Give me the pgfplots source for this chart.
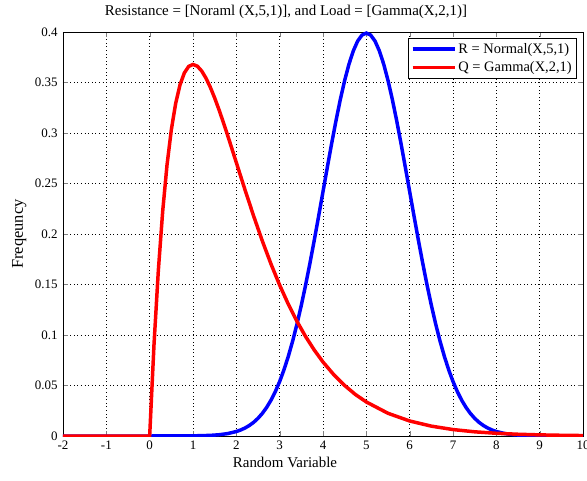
\documentclass[border=0pt]{standalone}
\usepackage{fontspec}
\setmainfont{Liberation Serif}
\usepackage{pgfplots}
\pgfplotsset{compat=1.18}
\definecolor{mblue}{RGB}{0,0,255}
\definecolor{mred}{RGB}{255,0,0}
\begin{document}
\begin{tikzpicture}
\begin{axis}[
  scale only axis,
  width=520bp, height=404bp,
  xmin=-2, xmax=10, ymin=0, ymax=0.4,
  xtick={-2,-1,...,10},
  ytick={0,0.05,0.1,0.15,0.2,0.25,0.3,0.35,0.4},
  yticklabel style={/pgf/number format/fixed,/pgf/number format/precision=2, xshift=-2bp},
  xticklabel style={yshift=-1bp},
  /pgf/number format/assume math mode=true,
  tick label style={font=\fontsize{13}{15}\selectfont},
  title style={font=\fontsize{15}{17}\selectfont, at={(axis description cs:0.5,1)}, anchor=base, yshift=11bp, xshift=-37bp},
  xlabel style={font=\fontsize{15}{17}\selectfont, at={(axis description cs:0.5,0)}, anchor=base, yshift=-31bp, xshift=-38bp},
  ylabel style={font=\fontsize{16.5}{18}\selectfont, at={(axis description cs:0,0.5)}, anchor=base, yshift=40bp},
  title={Resistance = [Noraml (X,5,1)], and Load = [Gamma(X,2,1)]},
  xlabel={Random Variable},
  ylabel={Freqeuncy},
  xmajorgrids, ymajorgrids,
  grid style={black, line width=0.6pt, dash pattern=on 0.8bp off 2.8bp},
  tick align=inside,
  major tick length=5bp,
  axis line style={black, line width=0.7pt},
  legend style={font=\fontsize{14.5}{16}\selectfont, draw=black, line width=0.7pt, inner xsep=3bp, inner ysep=3bp, row sep=3bp, at={(1,1)}, anchor=north east, xshift=-6bp, yshift=-6bp},
  legend cell align=left,
  legend image code/.code={\draw[#1, line width=3.5pt] (0,0) -- (42bp,0);},
]
\addplot[mblue, line width=3.5pt] coordinates {
(-2,0) (0,0) (1.0,0.00013) (1.4,0.00061) (1.6,0.00123) (1.8,0.00238)
(2.0,0.00443) (2.1,0.00595) (2.2,0.00792) (2.3,0.01042) (2.4,0.01358) (2.5,0.01753)
(2.6,0.02239) (2.7,0.02833) (2.8,0.03547) (2.9,0.04398) (3.0,0.05399) (3.1,0.06562)
(3.2,0.07895) (3.3,0.09405) (3.4,0.11092) (3.5,0.12952) (3.6,0.14973) (3.7,0.17137)
(3.8,0.19419) (3.9,0.21785) (4.0,0.24197) (4.1,0.26609) (4.2,0.28969) (4.3,0.31225)
(4.4,0.33322) (4.5,0.35207) (4.6,0.36827) (4.7,0.38139) (4.8,0.39104) (4.9,0.39695)
(5.0,0.39894)
(5.1,0.39695) (5.2,0.39104) (5.3,0.38139) (5.4,0.36827) (5.5,0.35207) (5.6,0.33322)
(5.7,0.31225) (5.8,0.28969) (5.9,0.26609) (6.0,0.24197) (6.1,0.21785) (6.2,0.19419)
(6.3,0.17137) (6.4,0.14973) (6.5,0.12952) (6.6,0.11092) (6.7,0.09405) (6.8,0.07895)
(6.9,0.06562) (7.0,0.05399) (7.1,0.04398) (7.2,0.03547) (7.3,0.02833) (7.4,0.02239)
(7.5,0.01753) (7.6,0.01358) (7.7,0.01042) (7.8,0.00792) (7.9,0.00595) (8.0,0.00443)
(8.2,0.00238) (8.4,0.00123) (8.6,0.00061) (9.0,0.00013) (10,0)
};
\addlegendentry{R = Normal(X,5,1)}
\addplot[mred, line width=3.5pt] coordinates {
(-2,0) (0,0) (0.1,0.09048) (0.2,0.16375) (0.3,0.22225) (0.4,0.26813) (0.5,0.30327)
(0.6,0.32929) (0.7,0.34761) (0.8,0.35946) (0.9,0.36591) (1.0,0.36788) (1.1,0.36616)
(1.2,0.36143) (1.3,0.35429) (1.4,0.34524) (1.5,0.33470) (1.6,0.32304) (1.7,0.31056)
(1.8,0.29754) (1.9,0.28418) (2.0,0.27067) (2.2,0.24377) (2.4,0.21772) (2.6,0.19311)
(2.8,0.17027) (3.0,0.14936) (3.2,0.13044) (3.4,0.11347) (3.6,0.09837) (3.8,0.08501)
(4.0,0.07326) (4.25,0.06066) (4.5,0.04999) (4.75,0.04102) (5.0,0.03369) (5.5,0.02248)
(6.0,0.01487) (6.5,0.00977) (7.0,0.00638) (7.5,0.00415) (8.0,0.00268) (8.5,0.00173)
(9.0,0.00111) (9.5,0.00071) (10,0.00045)
};
\addlegendentry{Q = Gamma(X,2,1)}
\end{axis}
\pgfresetboundingbox
\path ([shift={(-63bp,-45bp)}]current axis.south west) rectangle ([shift={(4bp,32bp)}]current axis.north east);
\end{tikzpicture}
\end{document}
